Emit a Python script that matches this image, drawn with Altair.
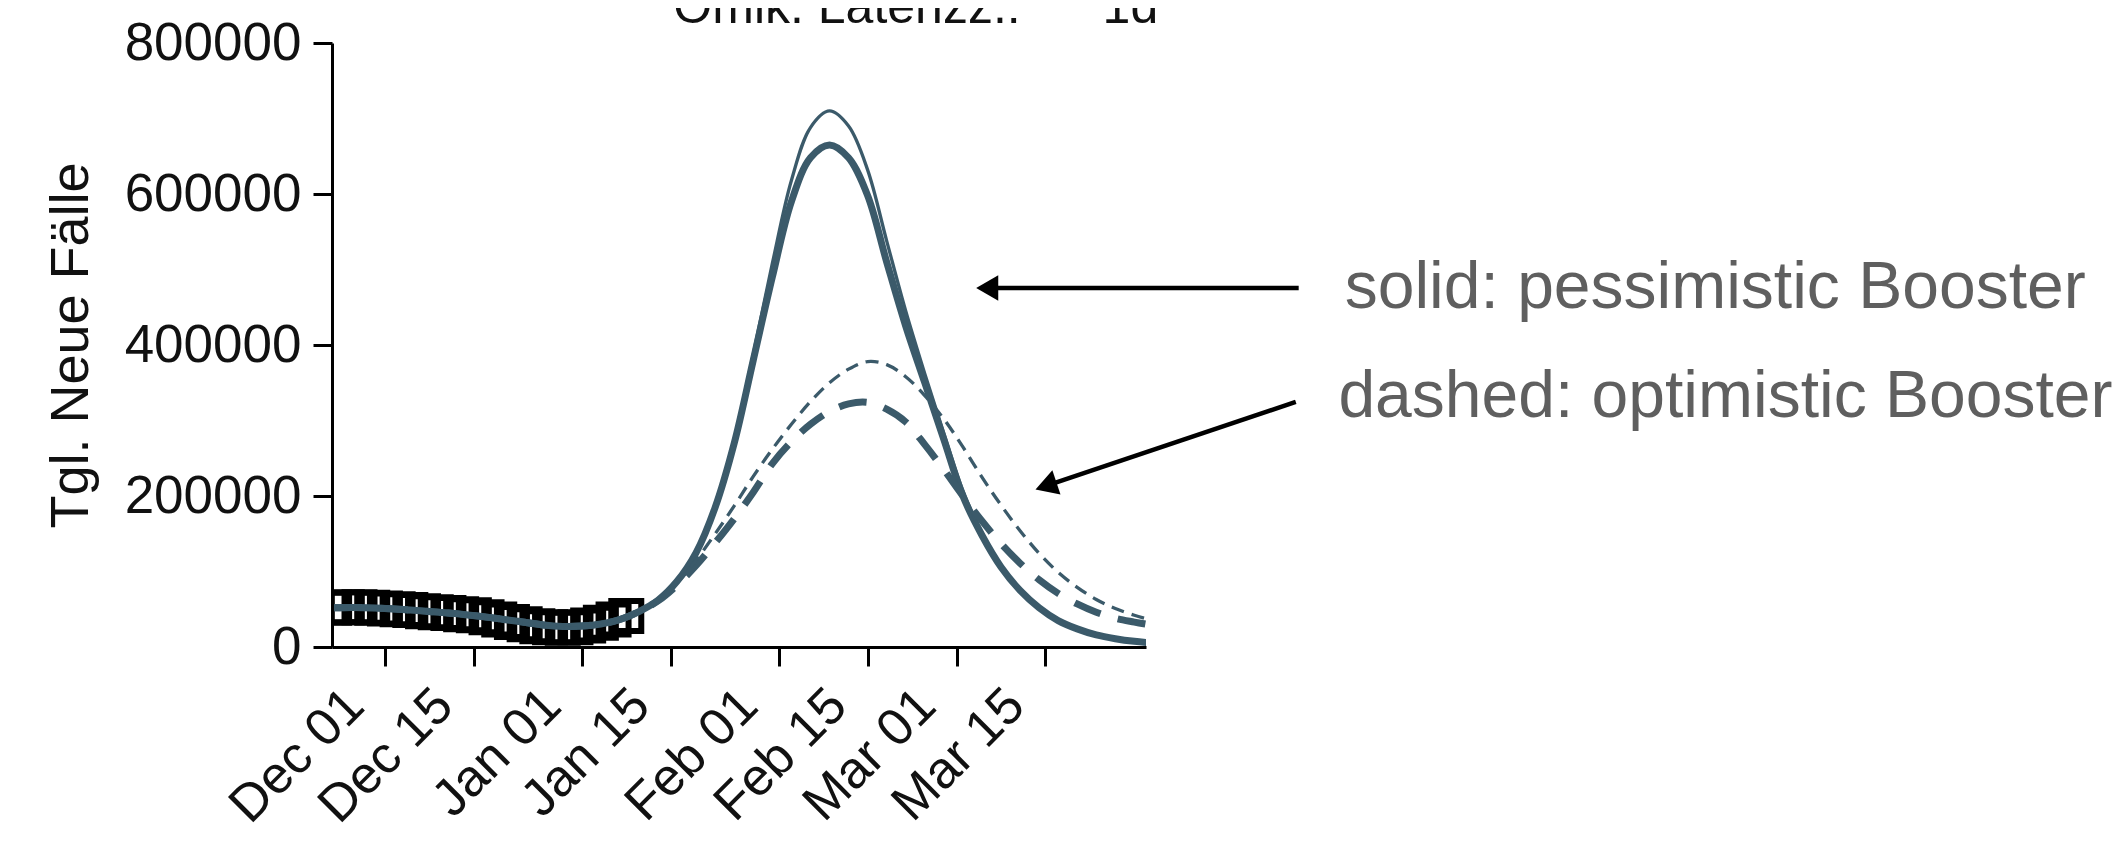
import altair as alt
import pandas as pd

# ---------------- data ----------------
model_dates = ["2021-11-23", "2021-11-26", "2021-11-29", "2021-12-02", "2021-12-05", "2021-12-08",
               "2021-12-11", "2021-12-14", "2021-12-17", "2021-12-20", "2021-12-23", "2021-12-26",
               "2021-12-29", "2022-01-01", "2022-01-04", "2022-01-07", "2022-01-10", "2022-01-13",
               "2022-01-16", "2022-01-19", "2022-01-22", "2022-01-25", "2022-01-28", "2022-01-31",
               "2022-02-03", "2022-02-06", "2022-02-09", "2022-02-12", "2022-02-15", "2022-02-18",
               "2022-02-21", "2022-02-24", "2022-02-27", "2022-03-02", "2022-03-05", "2022-03-08",
               "2022-03-11", "2022-03-14", "2022-03-17", "2022-03-20", "2022-03-23", "2022-03-26",
               "2022-03-29", "2022-03-31"]

solid_thick = [52000, 52300, 51800, 50600, 48900, 47000, 45000, 42500, 39600, 36200, 32700, 29100,
               27300, 27700, 30400, 36400, 47000, 62000, 87000, 125000, 185000, 270000, 380000, 490000,
               590000, 648000, 665000, 648000, 598000, 510000, 425000, 350000, 275000, 200000, 148000,
               106000, 75000, 52000, 35000, 24000, 16000, 11000, 7500, 6000]

solid_thin = [54000, 54300, 53800, 52600, 50900, 49000, 47000, 44500, 41600, 38200, 34700, 31100,
              29300, 29700, 32400, 38400, 49000, 62500, 88000, 127000, 188000, 275000, 388000, 508000,
              618000, 688000, 710000, 690000, 632000, 538000, 445000, 362000, 283000, 207000, 151000,
              108000, 76000, 52000, 35000, 24000, 16000, 11000, 7500, 6000]

dashed_thick = [52000, 52300, 51800, 50600, 48900, 47000, 45000, 42500, 39600, 36200, 32700, 29100,
                27300, 27700, 30400, 36400, 47000, 61000, 82000, 108000, 138000, 170000, 205000, 243000,
                272000, 295000, 312000, 322000, 324000, 315000, 298000, 268000, 235000, 200000, 167000,
                137000, 111000, 89000, 71000, 57000, 46000, 38000, 33000, 30000]

dashed_thin = [50000, 50300, 49800, 48600, 46900, 45000, 43000, 40500, 37600, 34200, 30700, 27100,
               25300, 25700, 28400, 34400, 45000, 61500, 85000, 115000, 150000, 187000, 226000, 262000,
               295000, 325000, 350000, 368000, 378000, 374000, 358000, 333000, 302000, 265000, 225000,
               188000, 154000, 124000, 99000, 79000, 63000, 51000, 42000, 37000]

obs_dates = ["2021-11-23", "2021-11-25", "2021-11-27", "2021-11-29", "2021-12-01", "2021-12-03",
             "2021-12-05", "2021-12-07", "2021-12-09", "2021-12-11", "2021-12-13", "2021-12-15",
             "2021-12-17", "2021-12-19", "2021-12-21", "2021-12-23", "2021-12-25", "2021-12-27",
             "2021-12-29", "2021-12-31", "2022-01-02", "2022-01-04", "2022-01-06", "2022-01-08"]
obs_values = [52000, 52500, 52500, 52000, 51000, 50000, 49000, 47500, 46000, 45000, 43500, 42000,
              39500, 36500, 33000, 30000, 27500, 26000, 25500, 26000, 28500, 32000, 36500, 41000]

tick_dates = [(2021, 12, 1), (2021, 12, 15), (2022, 1, 1), (2022, 1, 15),
              (2022, 2, 1), (2022, 2, 15), (2022, 3, 1), (2022, 3, 15)]
y_ticks = [0, 200000, 400000, 600000, 800000]

# annotations (in data coordinates)
arrow_start_dates = ["2022-04-23T21:00:00Z", "2022-04-23T10:00:00Z"]
arrow_end_dates = ["2022-03-05T20:00:00Z", "2022-03-15T02:00:00Z"]
arrow_start_vals = [475600, 324700]
arrow_end_vals = [475600, 213400]
head_angles = [0, 341.4]

note_texts = ["solid: pessimistic Booster", "dashed: optimistic Booster"]
note_dates = ["2022-05-01T03:00:00Z", "2022-04-30T03:00:00Z"]
note_vals = [449000, 305000]

title_texts = ["Omik. Latenzz.:", "1d"]
title_dates = ["2022-01-15T10:00:00Z", "2022-03-24T00:00:00Z"]
title_vals = [827000, 827000]

TEAL = "#3b5a6a"
FONT = "Liberation Sans"

# ---------------- chart ----------------
x_scale = alt.Scale(type="utc", domain=[
    alt.DateTime(year=2021, month=11, date=22, hours=16, utc=True),
    alt.DateTime(year=2022, month=3, date=30, hours=20, utc=True)])
y_scale = alt.Scale(domain=[0, 800000], nice=False)

x_axis = alt.Axis(values=[alt.DateTime(year=a, month=b, date=c, utc=True) for a, b, c in tick_dates],
                  format="%b %d", labelAngle=315, labelAlign="right", labelBaseline="middle",
                  labelOffset=-30, labelPadding=31, labelOverlap=False, labelFontSize=52, title=None)
y_axis = alt.Axis(values=y_ticks, format="d", title="Tgl. Neue Fälle", titlePadding=34,
                  labelPadding=12, labelFontSize=53, labelOverlap=False)


def X(field):
    return alt.X(field, scale=x_scale, axis=x_axis)


def Y(field):
    return alt.Y(field, scale=y_scale, axis=y_axis)


obs_df = pd.DataFrame({"date": obs_dates, "value": obs_values})
squares = alt.Chart(obs_df).mark_point(shape="square", filled=False, color="black",
                                         size=900, strokeWidth=6, opacity=1, clip=True).encode(
    x=X("date:T"), y=Y("value:Q"))


def line(values, width, dash=None):
    df = pd.DataFrame({"date": model_dates, "value": values})
    kw = dict(color=TEAL, strokeWidth=width, interpolate="catmull-rom", clip=True, strokeCap="butt")
    if dash:
        kw["strokeDash"] = dash
    return alt.Chart(df).mark_line(**kw).encode(x=X("date:T"), y=Y("value:Q"))


l_solid_thick = line(solid_thick, 7)
l_solid_thin = line(solid_thin, 3.3)
l_dashed_thick = line(dashed_thick, 7, [28, 18])
l_dashed_thin = line(dashed_thin, 3.3, [13, 8])

arrow_df = pd.DataFrame({"date": arrow_start_dates, "value": arrow_start_vals,
                         "d1": arrow_end_dates, "v1": arrow_end_vals})
arrow_lines = alt.Chart(arrow_df).mark_rule(color="black", strokeWidth=4.5).encode(
    x=X("date:T"), x2="d1:T", y=Y("value:Q"), y2="v1:Q")

head_df = pd.DataFrame({"date": arrow_end_dates, "value": arrow_end_vals, "ang": head_angles})
arrow_heads = alt.Chart(head_df).mark_point(shape="triangle-left", filled=True, color="black",
                                              size=650, opacity=1).encode(
    x=X("date:T"), y=Y("value:Q"), angle=alt.Angle("ang:Q", scale=None))

note_df = pd.DataFrame({"date": note_dates, "value": note_vals, "text": note_texts})
notes = alt.Chart(note_df).mark_text(align="left", baseline="alphabetic", font=FONT, fontSize=66,
                                      color="#5f5f5f").encode(
    x=X("date:T"), y=Y("value:Q"), text="text:N")

title_df = pd.DataFrame({"date": title_dates, "value": title_vals, "text": title_texts})
titles = alt.Chart(title_df).mark_text(align="left", baseline="alphabetic", font=FONT, fontSize=50,
                                        color="#111111").encode(
    x=X("date:T"), y=Y("value:Q"), text="text:N")

chart = alt.layer(
    squares, l_solid_thick, l_solid_thin, l_dashed_thick, l_dashed_thin,
    arrow_lines, arrow_heads, notes, titles
).properties(
    width=814, height=604,
    padding={"left": 324, "top": 35, "right": 972, "bottom": 193},
    autosize=alt.AutoSizeParams(type="none"),
).configure_view(stroke=None).configure_axis(
    grid=False, domainColor="black", domainWidth=3, tickColor="black", tickWidth=3, tickSize=19,
    labelFont=FONT, labelColor="#111111",
    titleFont=FONT, titleFontSize=54, titleFontWeight="normal", titleColor="#111111",
)

chart.save("out.html", embed_options={"renderer": "svg", "actions": False})
